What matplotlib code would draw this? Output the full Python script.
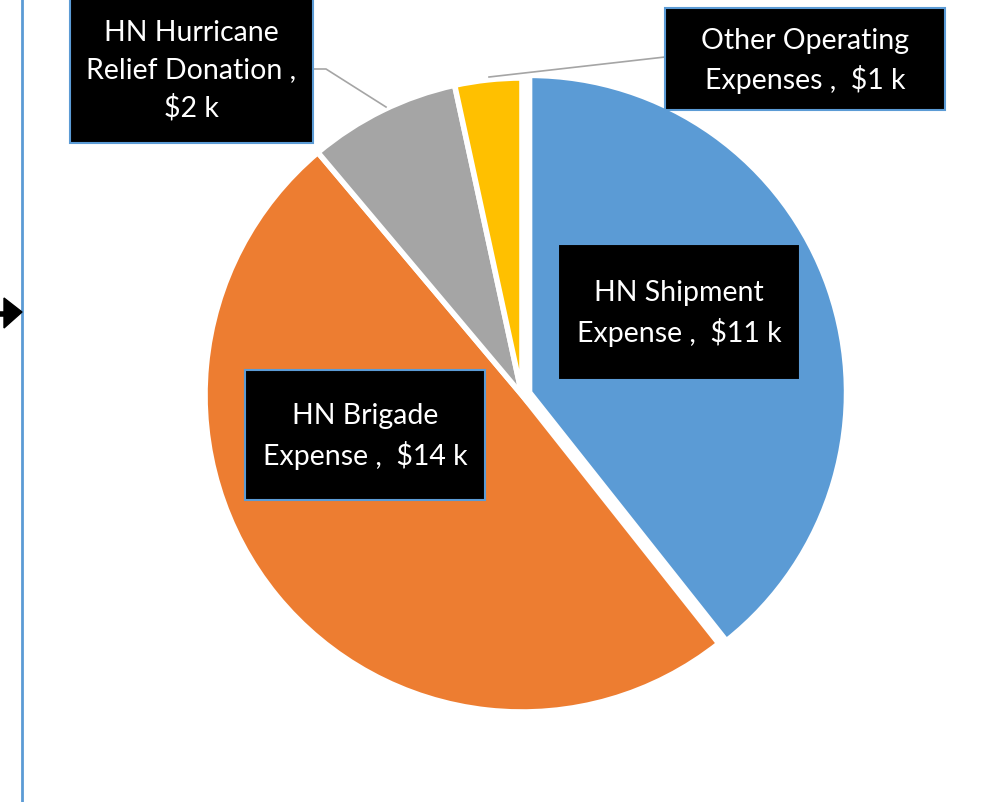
import matplotlib
matplotlib.use("Agg")
import matplotlib.pyplot as plt
from matplotlib.patches import Rectangle, Polygon

# данные
categories = ["HN Shipment Expense", "HN Brigade Expense",
              "HN Hurricane Relief Donation", "Other Operating Expenses"]
values = [11.2, 14.1, 2.2, 0.97]  # $ k
colors = ["#5B9BD5", "#ED7D31", "#A5A5A5", "#FFC000"]
# как разбит текст подписей по строкам
label_lines = [["HN Shipment", "Expense ,  ${} k"],
               ["HN Brigade", "Expense ,  ${} k"],
               ["HN Hurricane", "Relief Donation ,", "${} k"],
               ["Other Operating", "Expenses ,  ${} k"]]

W, H = 1004, 802


def py(y):  # пиксели сверху -> координаты снизу
    return H - y


fig = plt.figure(figsize=(W / 100, H / 100), dpi=100)
ax = fig.add_axes([0, 0, 1, 1])

ax.pie(values, colors=colors, startangle=90, counterclock=False,
       center=(522, py(395)), radius=317, explode=[8, 0, 0, 0],
       wedgeprops=dict(edgecolor="white", linewidth=4))
ax.set_xlim(0, W)
ax.set_ylim(0, H)
ax.set_aspect("equal")
ax.set_axis_off()

# рамки подписей (x0, y0, x1, y1 в пикселях)
boxes = [(558, 244, 800, 380), (245, 370, 485, 500),
         (70, -5, 313, 143), (665, 8, 945, 110)]

for lines, v, (x0, y0, x1, y1) in zip(label_lines, values, boxes):
    ax.add_patch(Rectangle((x0, py(y1)), x1 - x0, y1 - y0, facecolor="black",
                           edgecolor="#5B9BD5", linewidth=1.5, zorder=5))
    txt = "\n".join(lines).format(round(v))
    ax.text((x0 + x1) / 2, py((y0 + y1) / 2 + 2), txt, color="white", ha="center",
            va="center", fontsize=20.5, family="Lato", linespacing=1.5,
            multialignment="center", zorder=6)

# выноски
ax.plot([313, 326, 386], [py(69), py(69), py(107)], color="#A5A5A5", lw=1.2, zorder=4)
ax.plot([489, 665], [py(77), py(57)], color="#A5A5A5", lw=1.2, zorder=4)

# левая граница и стрелка
ax.plot([22, 22], [0, H], color="#5B9BD5", lw=2, zorder=3)
ax.add_patch(Polygon([(4, py(298)), (22, py(312)), (4, py(328))],
                     closed=True, color="black", zorder=4))
ax.plot([0, 6], [py(314), py(314)], color="black", lw=4, zorder=4)

fig.savefig("out.png", dpi=100)
